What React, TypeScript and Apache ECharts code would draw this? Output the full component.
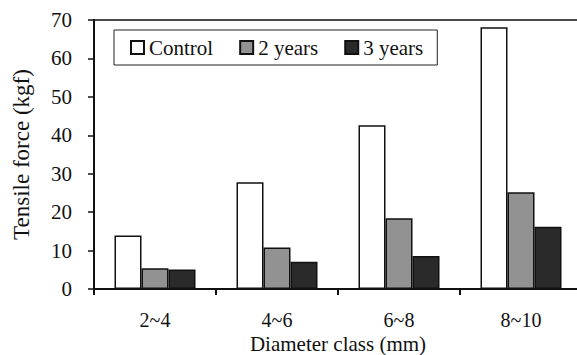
import React, { useEffect, useRef } from "react";
import * as echarts from "echarts";

const categories = ["2~4", "4~6", "6~8", "8~10"];
const controlValues = [13.9, 27.8, 42.6, 68.1];
const twoYearValues = [5.4, 10.8, 18.4, 25.2];
const threeYearValues = [5.1, 7.1, 8.6, 16.2];
const seriesNames = ["Control", "2 years", "3 years"];

const FONT = "Liberation Serif";

export default function App() {
  const ref = useRef<HTMLDivElement>(null);
  useEffect(() => {
    if (!ref.current) return;
    const chart = echarts.init(ref.current, undefined, { renderer: "svg" });
    const colors = ["#ffffff", "#929292", "#2a2a2a"];
    const data = [controlValues, twoYearValues, threeYearValues];
    chart.setOption({
      animation: false,
      backgroundColor: "#ffffff",
      textStyle: { fontFamily: FONT, color: "#111" },
      grid: {
        left: 94,
        top: 20,
        bottom: 66,
        right: -5,
        outerBoundsMode: "none",
        containLabel: false,
        show: true,
        borderColor: "#111",
        borderWidth: 1.5,
        backgroundColor: "transparent",
      },
      legend: {
        left: 114,
        top: 30,
        orient: "horizontal",
        itemWidth: 13,
        itemHeight: 13,
        itemGap: 26,
        padding: [7, 14, 7, 16],
        borderColor: "#222",
        borderWidth: 1,
        backgroundColor: "#fff",
        textStyle: { fontFamily: FONT, fontSize: 21, color: "#111" },
        data: seriesNames.map((n) => ({ name: n, icon: "rect" })),
      },
      xAxis: {
        type: "category",
        data: categories,
        boundaryGap: true,
        name: "Diameter class (mm)",
        nameLocation: "middle",
        nameGap: 44,
        nameMoveOverlap: false,
        nameTextStyle: { fontFamily: FONT, fontSize: 21, color: "#111" },
        axisLine: { lineStyle: { color: "#111", width: 2 } },
        axisTick: { show: true, length: 6, inside: false, lineStyle: { color: "#111", width: 2 } },
        axisLabel: { fontFamily: FONT, fontSize: 20, color: "#111", margin: 21 },
        splitLine: { show: false },
      },
      yAxis: {
        type: "value",
        min: 0,
        max: 70,
        interval: 10,
        name: "Tensile force (kgf)",
        nameLocation: "middle",
        nameGap: 61,
        nameMoveOverlap: false,
        nameRotate: 90,
        nameTextStyle: { fontFamily: FONT, fontSize: 23, color: "#111" },
        axisLine: { show: true, lineStyle: { color: "#111", width: 2 } },
        axisTick: { show: true, length: 6, inside: false, lineStyle: { color: "#111", width: 1.5 } },
        axisLabel: { fontFamily: FONT, fontSize: 21, color: "#111", margin: 22 },
        splitLine: { show: false },
      },
      series: seriesNames.map((name, i) => ({
        name,
        type: "bar",
        data: data[i],
        barWidth: 27,
        barGap: "0%",
        itemStyle: { color: colors[i], borderColor: "#111", borderWidth: 1.5 },
      })),
    });
    return () => chart.dispose();
  }, []);
  return <div ref={ref} style={{ width: 577, height: 355, position: "absolute", left: 0, top: 0 }} />;
}
